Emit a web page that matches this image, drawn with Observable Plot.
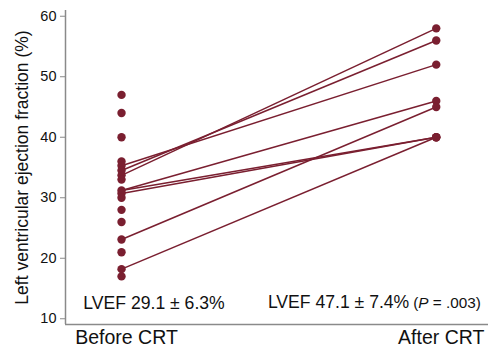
<!DOCTYPE html>
<html>
<head>
<meta charset="utf-8">
<script src="https://cdn.jsdelivr.net/npm/d3@7"></script>
<script src="https://cdn.jsdelivr.net/npm/@observablehq/plot@0.6"></script>
<style>
  html, body { margin: 0; padding: 0; background: #fff; }
</style>
</head>
<body>
<div id="chart"></div>
<script>
// ---- data ----
const xLabels = ["Before CRT", "After CRT"];
const beforeValues = [47, 44, 40, 36, 35.3, 34.5, 33.7, 33, 31.2, 30.7, 30, 28, 26, 23.1, 21, 18.2, 17];
const afterValues = [58, 56, 52, 46, 45, 40, 40, 40];
const pairBefore = [33.7, 34.5, 35.3, 31.2, 23.1, 31.2, 30.7, 18.2];
const pairAfter  = [58, 56, 52, 46, 45, 40, 40, 40];
const yTicks = [10, 20, 30, 40, 50, 60];
const yLabel = "Left ventricular ejection fraction (%)";
const beforeNote = "LVEF 29.1 ± 6.3%";
const afterNote = "LVEF 47.1 ± 7.4%";
const pNote = "(P = .003)";

// ---- tables built from the arrays ----
const points = [
  ...beforeValues.map(v => ({x: 0, y: v})),
  ...afterValues.map(v => ({x: 1, y: v}))
];
const pairs = pairBefore.map((b, i) => ({b, a: pairAfter[i]}));

const color = "#7a1f30";
const axisGray = "#8a8a8a";
const font = "'Liberation Sans', Arial, Helvetica, sans-serif";
const xDomain = [-0.178, 1.166];
const yDomain = [9.05, 60.95];

const chart = Plot.plot({
  width: 488,
  height: 350,
  marginLeft: 65,
  marginRight: 0,
  marginTop: 10,
  marginBottom: 26,
  style: {fontFamily: font, background: "#fff", color: "#111"},
  x: {domain: xDomain, axis: null},
  y: {domain: yDomain, axis: null},
  marks: [
    Plot.ruleX([xDomain[0]], {stroke: axisGray, strokeWidth: 1.5}),
    Plot.ruleY([yDomain[0]], {stroke: axisGray, strokeWidth: 1.5}),
    Plot.axisY({ticks: yTicks, tickSize: 5, tickPadding: 4, fontSize: 14.5, stroke: axisGray, fill: "#111", label: null}),
    Plot.axisX({ticks: [0, 1], tickFormat: d => xLabels[d], tickSize: 0, tickPadding: 6, fontSize: 19.5, dx: 5, fill: "#111", label: null}),
    Plot.text([yLabel], {frameAnchor: "left", dx: -38, rotate: -90, fontSize: 17.5, lineAnchor: "bottom", textAnchor: "middle", fill: "#111"}),
    Plot.link(pairs, {x1: () => 0, y1: "b", x2: () => 1, y2: "a", stroke: color, strokeWidth: 1.5}),
    Plot.dot(points, {x: "x", y: "y", r: 4.2, fill: color, stroke: null}),
    Plot.text([beforeNote], {x: () => 0, frameAnchor: "bottom", dx: 32.5, dy: -16, fontSize: 17.6, lineAnchor: "bottom", textAnchor: "middle", fill: "#111"}),
    Plot.text([afterNote], {x: () => 1, frameAnchor: "bottom", dx: -27, dy: -17, fontSize: 17.6, lineAnchor: "bottom", textAnchor: "end", fill: "#111"}),
    Plot.text([pNote], {x: () => 1, frameAnchor: "bottom", dx: -23, dy: -17, fontSize: 15.3, lineAnchor: "bottom", textAnchor: "start", fill: "#111"})
  ]
});

document.getElementById("chart").appendChild(chart);

// italic P inside the p-value note
d3.select(chart).selectAll("text").filter(function () { return this.textContent === pNote; })
  .each(function () {
    const t = d3.select(this);
    t.text("");
    t.append("tspan").text("(");
    t.append("tspan").attr("font-style", "italic").text("P");
    t.append("tspan").text(" = .003)");
  });
</script>
</body>
</html>
